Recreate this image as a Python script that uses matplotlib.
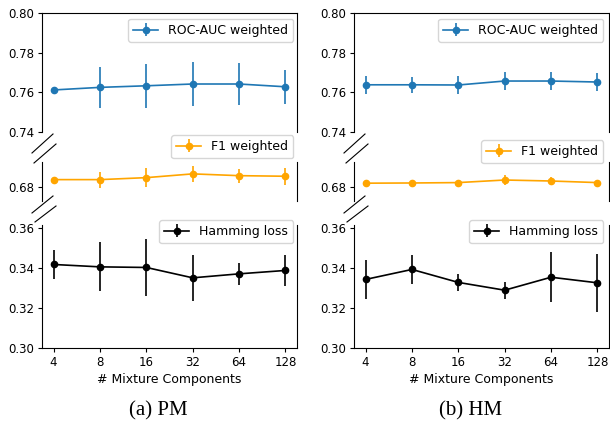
import matplotlib
matplotlib.use('Agg')
import matplotlib.pyplot as plt
import numpy as np
from matplotlib.lines import Line2D

# values
components = ['4', '8', '16', '32', '64', '128']

pm_roc = [0.7612, 0.7625, 0.7633, 0.7642, 0.7642, 0.7628]
pm_roc_err = [0.0008, 0.0103, 0.0111, 0.0109, 0.0106, 0.0087]
pm_f1 = [0.6835, 0.6835, 0.6845, 0.6864, 0.6855, 0.6852]
pm_f1_err = [0.0008, 0.0040, 0.0049, 0.0039, 0.0035, 0.0043]
pm_ham = [0.3419, 0.3407, 0.3404, 0.3352, 0.3372, 0.3389]
pm_ham_err = [0.0071, 0.0123, 0.0141, 0.0114, 0.0055, 0.0077]

hm_roc = [0.7638, 0.7638, 0.7637, 0.7657, 0.7657, 0.7652]
hm_roc_err = [0.0045, 0.0040, 0.0047, 0.0046, 0.0046, 0.0044]
hm_f1 = [0.6817, 0.6818, 0.6820, 0.6833, 0.6828, 0.6820]
hm_f1_err = [0.0018, 0.0015, 0.0015, 0.0027, 0.0018, 0.0012]
hm_ham = [0.3344, 0.3394, 0.3329, 0.3290, 0.3355, 0.3327]
hm_ham_err = [0.0096, 0.0075, 0.0042, 0.0043, 0.0126, 0.0147]

W, H = 610, 421
plt.rcParams['font.family'] = 'DejaVu Sans'
plt.rcParams['xtick.labelsize'] = 8.5
plt.rcParams['ytick.labelsize'] = 8.5
plt.rcParams['xtick.major.size'] = 3
plt.rcParams['ytick.major.size'] = 3
plt.rcParams['xtick.major.pad'] = 2.5
plt.rcParams['ytick.major.pad'] = 2.5

fig = plt.figure(figsize=(W / 100, H / 100), dpi=100)


def px_axes(left, top, width, height):
    return fig.add_axes([left / W, 1 - (top + height) / H, width / W, height / H])


def diag(x1, y1, x2, y2):
    fig.add_artist(Line2D([x1 / W, x2 / W], [1 - y1 / H, 1 - y2 / H],
                          transform=fig.transFigure, color='k', lw=0.8))


def panel(x0, roc, roc_err, f1, f1_err, ham, ham_err, leg_tops, leg_right, caption):
    width = 255
    x = np.arange(len(components))
    ax_top = px_axes(x0, 13, width, 119)
    ax_mid = px_axes(x0, 162, width, 39)
    ax_bot = px_axes(x0, 225, width, 123)

    style = dict(marker='o', markersize=4.5, lw=1.2, elinewidth=1.2)
    ax_top.errorbar(x, roc, yerr=roc_err, color='#1f77b4', label='ROC-AUC weighted', **style)
    ax_mid.errorbar(x, f1, yerr=f1_err, color='orange', label='F1 weighted', **style)
    ax_bot.errorbar(x, ham, yerr=ham_err, color='k', label='Hamming loss', **style)

    ax_top.set_ylim(0.74, 0.80)
    ax_top.set_yticks([0.74, 0.76, 0.78, 0.80])
    ax_mid.set_ylim(0.6727, 0.6924)
    ax_mid.set_yticks([0.68])
    ax_bot.set_ylim(0.30, 0.3617)
    ax_bot.set_yticks([0.30, 0.32, 0.34, 0.36])

    for ax in (ax_top, ax_mid, ax_bot):
        ax.set_xlim(-0.25, len(components) - 0.75)
        ax.yaxis.set_major_formatter(matplotlib.ticker.FormatStrFormatter('%.2f'))
    ax_top.spines['bottom'].set_visible(False)
    ax_mid.spines['bottom'].set_visible(False)
    ax_mid.spines['top'].set_visible(False)
    ax_bot.spines['top'].set_visible(False)
    ax_top.set_xticks([])
    ax_mid.set_xticks([])
    ax_bot.set_xticks(x)
    ax_bot.set_xticklabels(components)
    ax_bot.set_xlabel('# Mixture Components', fontsize=9, labelpad=3)

    # legends placed by pixel position (some sit above their axes)
    heights = [(ax_top, 132, 119), (ax_mid, 201, 39), (ax_bot, 348, 123)]
    for (ax, bottom, h), top_px in zip(heights, leg_tops):
        ax.legend(loc='upper right', fontsize=9, borderaxespad=0,
                  bbox_to_anchor=((leg_right - x0) / width, (bottom - top_px) / h))

    # break marks
    diag(x0 - 10, 153, x0 + 11, 134)
    diag(x0 - 8, 163, x0 + 14, 144)
    diag(x0 - 10, 213, x0 + 11, 196)
    diag(x0 - 7, 222, x0 + 14, 206)

    fig.text((x0 + width / 2 - 11) / W, 1 - 415 / H, caption, ha='center', va='baseline',
             fontsize=15, family='Liberation Serif')


panel(42, pm_roc, pm_roc_err, pm_f1, pm_f1_err, pm_ham, pm_ham_err,
      [19, 135, 220], 293, '(a) PM')
panel(354, hm_roc, hm_roc_err, hm_f1, hm_f1_err, hm_ham, hm_ham_err,
      [19, 140, 220], 603, '(b) HM')

fig.savefig('out.png', dpi=100)
